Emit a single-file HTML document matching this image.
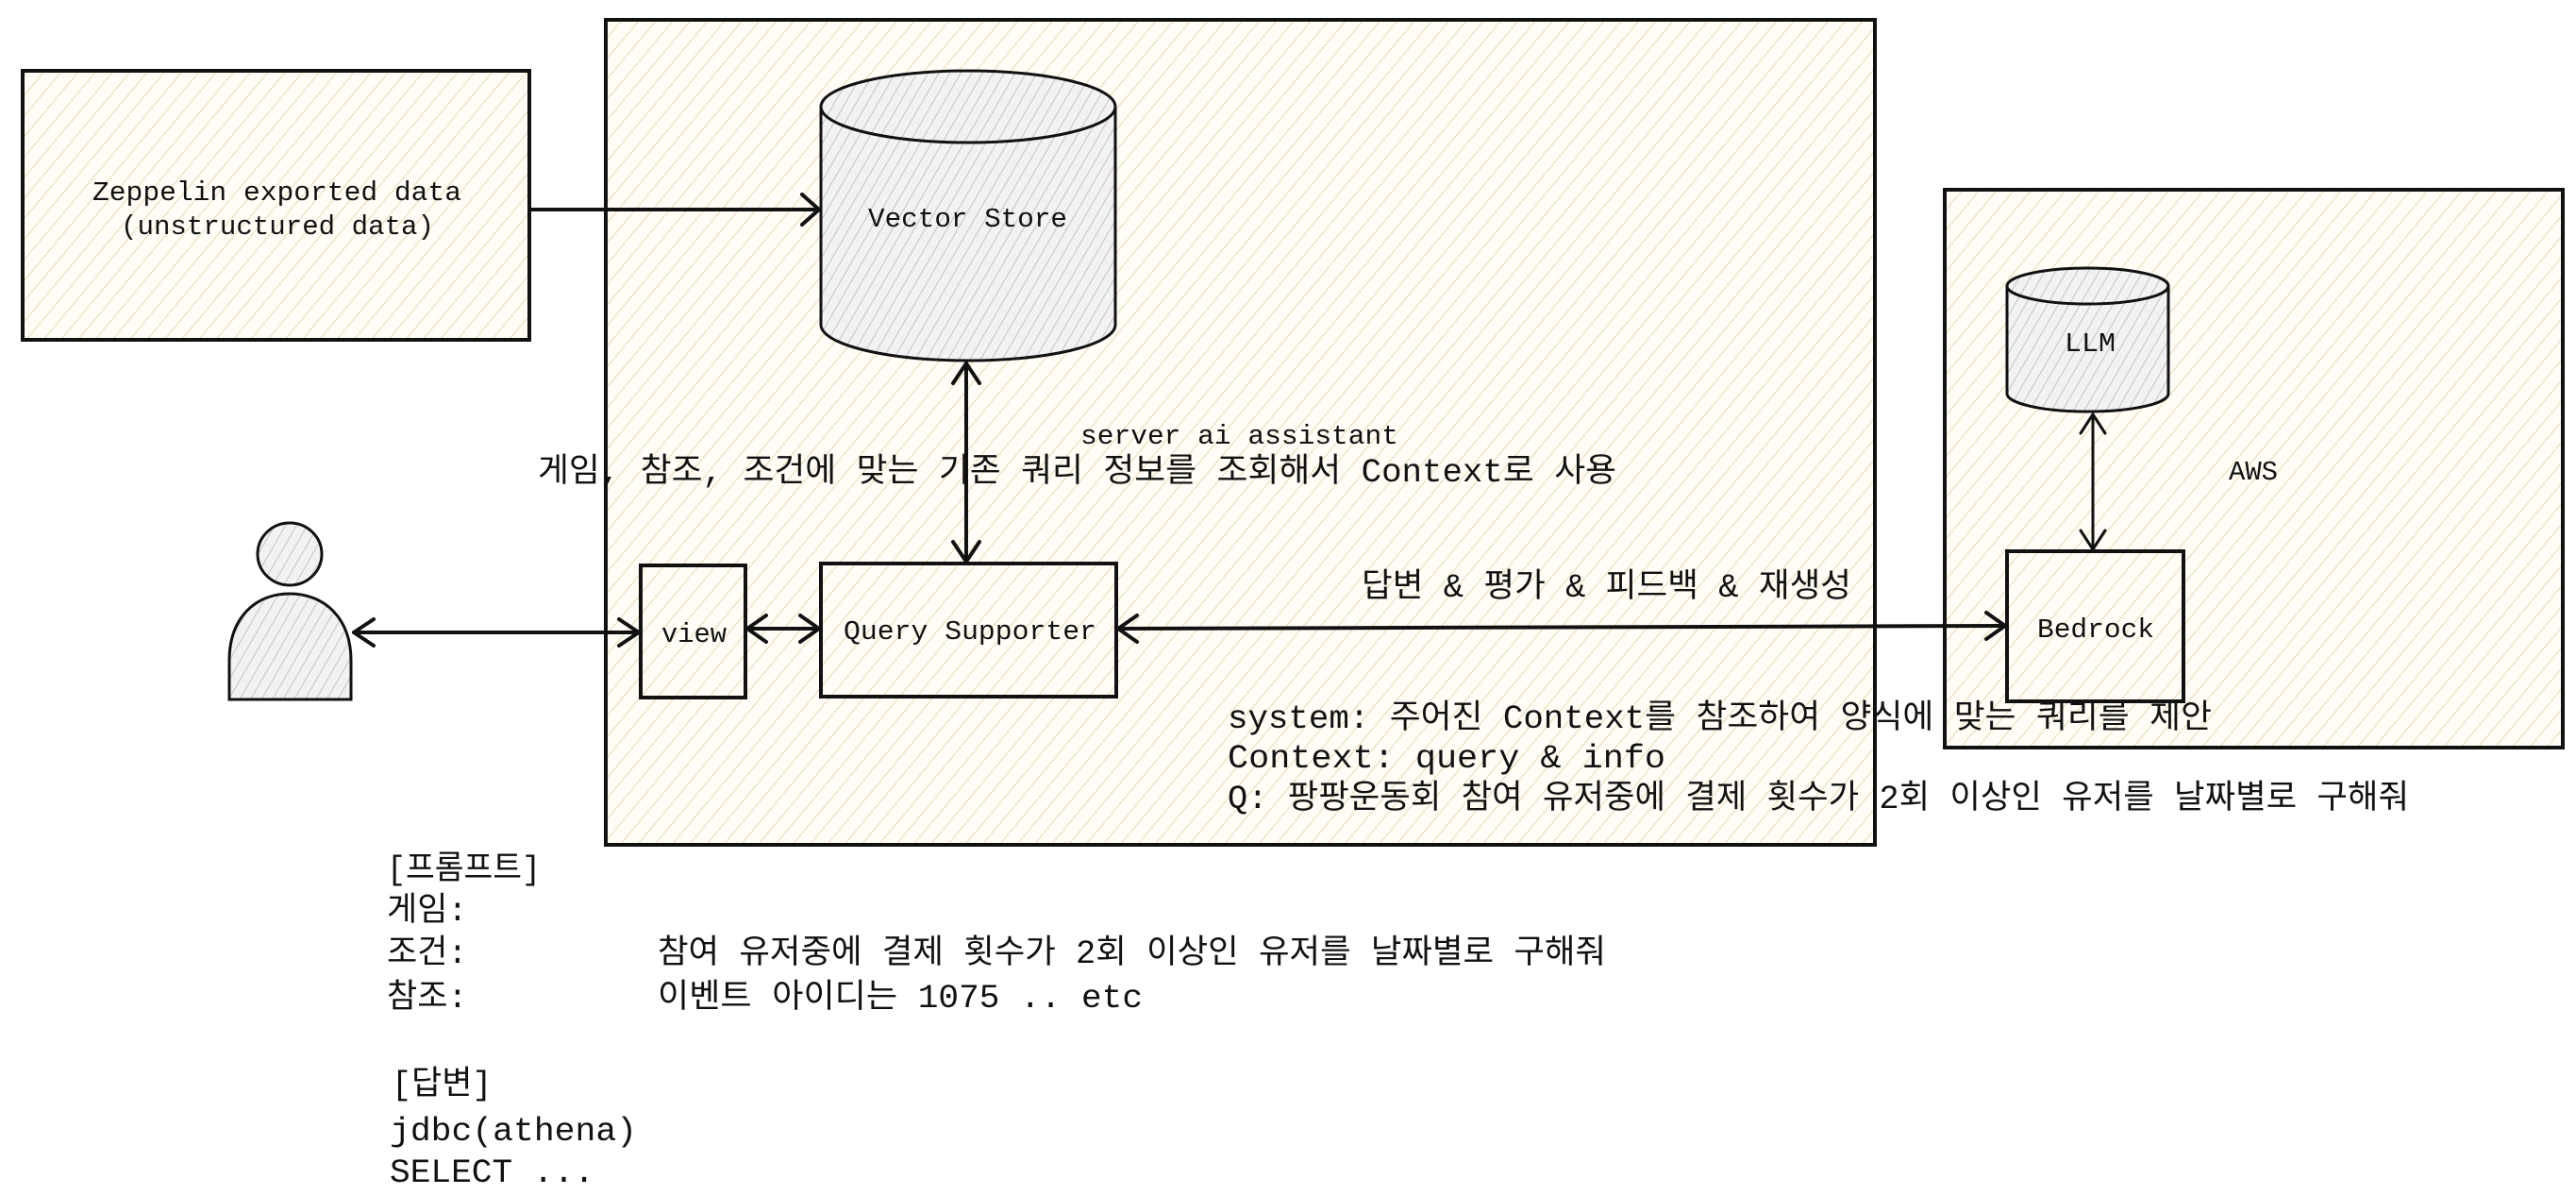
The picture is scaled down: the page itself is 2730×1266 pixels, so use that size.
<!DOCTYPE html>
<html><head><meta charset="utf-8"><style>
html,body{margin:0;padding:0;background:#fff;}
svg{display:block;}
text{font-family:"Liberation Mono","Noto Sans CJK KR",monospace;fill:#111;}
</style></head><body>
<svg width="2730" height="1266" viewBox="0 0 2730 1266" xmlns="http://www.w3.org/2000/svg">
<defs>
<pattern id="h" width="14" height="14" patternUnits="userSpaceOnUse" patternTransform="rotate(40)">
<rect width="14" height="14" fill="#fffdf6"/><line x1="0" y1="0" x2="0" y2="14" stroke="#eedfbf" stroke-width="2.5"/>
</pattern>
<pattern id="g" width="10" height="10" patternUnits="userSpaceOnUse" patternTransform="rotate(30)">
<rect width="10" height="10" fill="#f2f2f2"/><line x1="0" y1="0" x2="0" y2="10" stroke="#b8b8b8" stroke-width="1.6"/>
</pattern>
</defs>
<g stroke="#111" stroke-width="4">
<rect x="24" y="75" width="537" height="285" fill="url(#h)"/>
<rect x="642" y="21" width="1345" height="874" fill="url(#h)"/>
<rect x="2061" y="201" width="655" height="591" fill="url(#h)"/>
<rect x="679" y="599" width="111" height="140" fill="url(#h)"/>
<rect x="870" y="597" width="313" height="141" fill="url(#h)"/>
<rect x="2127" y="584" width="187" height="159" fill="url(#h)"/>
</g>
<!-- Vector store cylinder -->
<g stroke="#111" stroke-width="3">
<path d="M870 113 L870 344 A156 38 0 0 0 1182 344 L1182 113 A156 38 0 0 0 870 113 Z" fill="url(#g)"/>
<path d="M870 113 A156 38 0 0 0 1182 113" fill="none"/>
<!-- LLM cylinder -->
<path d="M2127 303 L2127 417 A85.5 19 0 0 0 2298 417 L2298 303 A85.5 19 0 0 0 2127 303 Z" fill="url(#g)"/>
<path d="M2127 303 A85.5 19 0 0 0 2298 303" fill="none"/>
<!-- person -->
<ellipse cx="307" cy="587" rx="34" ry="33" fill="url(#g)"/>
<path d="M243 741 L243 700 C243 655 270 629 307 629 C344 629 372 655 372 700 L372 741 Z" fill="url(#g)"/>
</g>
<!-- connectors -->
<g stroke="#111" stroke-width="4" fill="none" stroke-linecap="round" stroke-linejoin="round">
<line x1="562" y1="222" x2="867" y2="222"/><polyline points="850,206 868,222 850,238"/>
<line x1="1024" y1="385" x2="1024" y2="595"/><polyline points="1010,406 1024,385 1038,406"/><polyline points="1010,574 1024,595 1038,574"/>
<line x1="375" y1="670" x2="677" y2="670"/><polyline points="396,656 375,670 396,684"/><polyline points="656,656 677,670 656,684"/>
<line x1="792" y1="666" x2="868" y2="666"/><polyline points="812,652 792,666 812,680"/><polyline points="848,652 868,666 848,680"/>
<line x1="1185" y1="666" x2="2125" y2="663"/><polyline points="1205,652 1185,666 1205,680"/><polyline points="2105,649 2125,663 2105,677"/>
<line x1="2218" y1="439" x2="2218" y2="582" stroke-width="3"/><polyline points="2205,459 2218,439 2231,459" stroke-width="3"/><polyline points="2205,562 2218,582 2231,562" stroke-width="3"/>
</g>
<!-- labels -->
<g font-size="29">
<text x="98" y="212" textLength="391" lengthAdjust="spacingAndGlyphs">Zeppelin exported data</text>
<text x="128" y="248" textLength="332" lengthAdjust="spacingAndGlyphs">(unstructured data)</text>
<text x="920" y="240" textLength="211" lengthAdjust="spacingAndGlyphs">Vector Store</text>
<text x="894" y="677" textLength="268" lengthAdjust="spacingAndGlyphs">Query Supporter</text>
<text x="701" y="680" textLength="69" lengthAdjust="spacingAndGlyphs">view</text>
<text x="2159" y="675" textLength="124" lengthAdjust="spacingAndGlyphs">Bedrock</text>
<text x="2188" y="372" textLength="54" lengthAdjust="spacingAndGlyphs">LLM</text>
<text x="2362" y="508" textLength="52" lengthAdjust="spacingAndGlyphs">AWS</text>
<text x="1145" y="470" textLength="337" lengthAdjust="spacingAndGlyphs">server ai assistant</text>
</g>
<g font-size="35">
<text x="570" y="510" textLength="1143" lengthAdjust="spacingAndGlyphs">게임, 참조, 조건에 맞는 기존 쿼리 정보를 조회해서 Context로 사용</text>
<text x="1443" y="632" textLength="519" lengthAdjust="spacingAndGlyphs">답변 &amp; 평가 &amp; 피드백 &amp; 재생성</text>
<text x="1301" y="771" textLength="1043" lengthAdjust="spacingAndGlyphs">system: 주어진 Context를 참조하여 양식에 맞는 쿼리를 제안</text>
<text x="1301" y="813" textLength="464" lengthAdjust="spacingAndGlyphs">Context: query &amp; info</text>
<text x="1301" y="856" textLength="1252" lengthAdjust="spacingAndGlyphs">Q: 팡팡운동회 참여 유저중에 결제 횟수가 2회 이상인 유저를 날짜별로 구해줘</text>
<text x="410" y="931" textLength="163" lengthAdjust="spacingAndGlyphs">[프롬프트]</text>
<text x="410" y="975">게임:</text>
<text x="410" y="1020">조건:</text>
<text x="697" y="1020" textLength="1005" lengthAdjust="spacingAndGlyphs">참여 유저중에 결제 횟수가 2회 이상인 유저를 날짜별로 구해줘</text>
<text x="410" y="1067">참조:</text>
<text x="697" y="1067" textLength="514" lengthAdjust="spacingAndGlyphs">이벤트 아이디는 1075 .. etc</text>
<text x="415" y="1159">[답변]</text>
<text x="413" y="1208" textLength="262" lengthAdjust="spacingAndGlyphs">jdbc(athena)</text>
<text x="413" y="1252" textLength="217" lengthAdjust="spacingAndGlyphs">SELECT ...</text>
</g>
</svg>
</body></html>
